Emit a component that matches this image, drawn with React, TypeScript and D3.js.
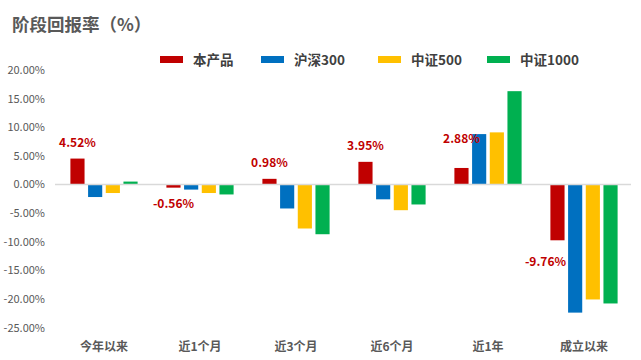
import { useRef, useEffect } from "react";
import { select, scaleBand, scaleLinear, range } from "d3";

const categories = ["今年以来", "近1个月", "近3个月", "近6个月", "近1年", "成立以来"];
const seriesNames = ["本产品", "沪深300", "中证500", "中证1000"];
const product = [4.52, -0.56, 0.98, 3.95, 2.88, -9.76];
const hs300 = [-2.2, -0.9, -4.2, -2.6, 8.8, -22.4];
const zz500 = [-1.5, -1.5, -7.7, -4.5, 9.1, -20.1];
const zz1000 = [0.5, -1.75, -8.7, -3.5, 16.3, -20.8];
const yTicks = [20, 15, 10, 5, 0, -5, -10, -15, -20, -25];

const colors = ["#C00000", "#0070C0", "#FFC000", "#00B050"];
const font = "'Microsoft YaHei', 'Noto Sans CJK SC', sans-serif";

// label nudges for the product series (some were moved by hand in the original)
const labelNudge: Record<string, [number, number]> = {
  近1年: [0, -13],
  成立以来: [-12, 6],
};

export default function App() {
  const ref = useRef<SVGSVGElement | null>(null);

  useEffect(() => {
    const svg = select(ref.current!);
    svg.selectAll("*").remove();

    const series = [product, hs300, zz500, zz1000];

    //scales
    const x0 = scaleBand<string>()
      .domain(categories)
      .range([56, 632])
      .paddingInner(0.3)
      .paddingOuter(0.15);
    const x1 = scaleBand<string>()
      .domain(seriesNames)
      .range([0, x0.bandwidth()])
      .paddingInner(0.2);
    const y = scaleLinear().domain([-25, 20]).range([327.5, 70]);

    //title
    svg
      .append("text")
      .attr("x", 12)
      .attr("y", 31)
      .attr("font-size", 17.5)
      .attr("font-weight", "bold")
      .attr("fill", "#595959")
      .attr("font-family", font)
      .text("阶段回报率（%）");

    //legend
    const legendX = [160, 261, 378, 487];
    const legend = svg
      .selectAll(".legend")
      .data(seriesNames)
      .join("g")
      .attr("class", "legend")
      .attr("transform", (d, i) => `translate(${legendX[i]},60)`);
    legend
      .append("rect")
      .attr("x", 0)
      .attr("y", -4)
      .attr("width", 23)
      .attr("height", 7)
      .attr("fill", (d, i) => colors[i]);
    legend
      .append("text")
      .attr("x", 33)
      .attr("y", 5)
      .attr("font-size", 13.5)
      .attr("font-weight", "bold")
      .attr("fill", "#404040")
      .attr("font-family", font)
      .text((d) => d);

    //y axis labels
    svg
      .selectAll(".ytick")
      .data(yTicks)
      .join("text")
      .attr("class", "ytick")
      .attr("x", 45)
      .attr("y", (d) => y(d) + 4)
      .attr("text-anchor", "end")
      .attr("font-size", 11)
      .attr("fill", "#595959")
      .attr("font-family", font)
      .text((d) => d.toFixed(2) + "%");

    //x axis labels
    svg
      .selectAll(".xtick")
      .data(categories)
      .join("text")
      .attr("class", "xtick")
      .attr("x", (d) => x0(d)! + x0.bandwidth() / 2)
      .attr("y", 351)
      .attr("text-anchor", "middle")
      .attr("font-size", 12)
      .attr("font-weight", "bold")
      .attr("fill", "#595959")
      .attr("font-family", font)
      .text((d) => d);

    //bars
    const cells = range(categories.length).flatMap((ci) =>
      seriesNames.map((s, si) => ({ cat: categories[ci], s, si, v: series[si][ci] }))
    );
    svg
      .selectAll(".bar")
      .data(cells)
      .join("rect")
      .attr("class", "bar")
      .attr("x", (d) => x0(d.cat)! + x1(d.s)!)
      .attr("width", x1.bandwidth())
      .attr("y", (d) => y(Math.max(0, d.v)))
      .attr("height", (d) => Math.abs(y(d.v) - y(0)))
      .attr("fill", (d) => colors[d.si]);

    //zero line
    svg
      .append("line")
      .attr("x1", 55)
      .attr("x2", 631)
      .attr("y1", y(0))
      .attr("y2", y(0))
      .attr("stroke", "#D9D9D9")
      .attr("stroke-width", 1.5);

    //product value labels
    svg
      .selectAll(".vlabel")
      .data(categories)
      .join("text")
      .attr("class", "vlabel")
      .attr("x", (d) => x0(d)! + x1(seriesNames[0])! + x1.bandwidth() / 2 + (labelNudge[d]?.[0] ?? 0))
      .attr("y", (d, i) => {
        const v = product[i];
        const base = v >= 0 ? y(v) - 16 : y(v) + 16;
        return base + 4 + (labelNudge[d]?.[1] ?? 0);
      })
      .attr("text-anchor", "middle")
      .attr("font-size", 12)
      .attr("font-weight", "bold")
      .attr("fill", "#C00000")
      .attr("font-family", font)
      .text((d, i) => product[i].toFixed(2) + "%");
  }, []);

  return (
    <svg
      ref={ref}
      width={641}
      height={360}
      style={{ position: "absolute", left: 0, top: 0, background: "#fff" }}
    ></svg>
  );
}
